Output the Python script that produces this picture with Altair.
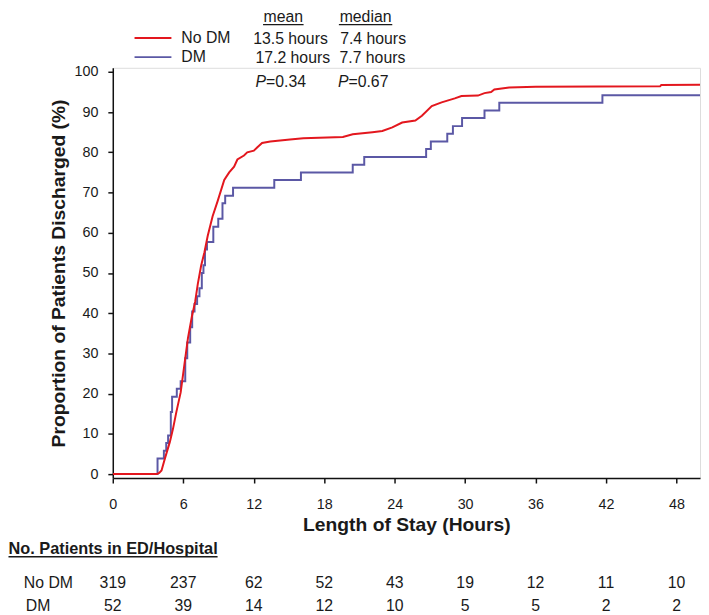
import altair as alt
import pandas as pd

# ---------------- data ----------------
series_names = ["No DM", "DM"]
series_colors = ["#e3171e", "#5b58a5"]

nodm_hours = [0, 3.75, 3.95, 4.15, 4.44, 4.86, 5.13, 5.41, 5.78, 6.12, 6.40, 6.73, 7.01, 7.24,
              7.52, 7.80, 8.08, 8.50, 8.92, 9.49, 9.91, 10.33, 10.61, 11.17, 11.45, 12.01,
              12.29, 12.71, 13.41, 15.09, 16.22, 19.59, 20.43, 22.11, 22.95, 23.80, 24.64,
              25.76, 26.32, 27.16, 28.0, 29.12, 29.69, 31.09, 31.65, 32.21, 32.49, 33.75,
              36.0, 46.6, 46.7, 50]
nodm_pct = [0, 0, 0.3, 0.9, 3.9, 8.0, 11.3, 15.4, 20.3, 27.7, 33.8, 39.1, 42.8, 47.3,
            51.8, 55.1, 59.2, 64.1, 67.8, 73.1, 75.0, 76.4, 78.2, 79.2, 80.0, 80.4,
            81.2, 82.3, 82.7, 83.2, 83.5, 83.8, 84.5, 85.0, 85.3, 86.2, 87.4,
            87.9, 89.1, 91.5, 92.4, 93.4, 94.0, 94.1, 94.7, 95.0, 95.6, 96.1,
            96.3, 96.4, 96.7, 96.8]

dm_hours = [0, 3.81, 4.35, 4.55, 4.71, 4.94, 5.05, 5.45, 5.78, 6.17, 6.34, 6.59, 6.76, 6.96,
            7.18, 7.38, 7.58, 7.72, 7.85, 8.02, 8.56, 8.98, 9.34, 9.57, 10.24, 13.75, 16.02,
            20.43, 21.41, 26.68, 27.08, 28.48, 28.96, 29.74, 31.65, 32.91, 41.69, 50]
dm_pct = [0, 3.85, 5.77, 7.7, 9.6, 15.4, 19.2, 21.2, 23.1, 28.8, 32.7, 36.5, 40.4, 42.3,
          44.2, 46.2, 50.0, 51.9, 55.8, 57.7, 61.5, 63.5, 67.3, 69.2, 71.2, 73.1, 75.0,
          76.9, 78.8, 80.8, 82.7, 84.6, 86.5, 88.5, 90.4, 92.3, 94.2, 94.2]

x_ticks = [0, 6, 12, 18, 24, 30, 36, 42, 48]
y_ticks = [0, 10, 20, 30, 40, 50, 60, 70, 80, 90, 100]
at_risk_nodm = [319, 237, 62, 52, 43, 19, 12, 11, 10]
at_risk_dm = [52, 39, 14, 12, 10, 5, 5, 2, 2]

stat_headers = ["mean", "median"]
mean_text = ["13.5 hours", "17.2 hours"]
median_text = ["7.4 hours", "7.7 hours"]
p_values = ["=0.34", "=0.67"]

x_title = "Length of Stay (Hours)"
y_title = "Proportion of Patients Discharged (%)"
table_title = "No. Patients in ED/Hospital"

# ---------------- tables ----------------
curves = pd.concat([
    pd.DataFrame({"series": "No DM", "hour": nodm_hours, "pct": nodm_pct}),
    pd.DataFrame({"series": "DM", "hour": dm_hours, "pct": dm_pct}),
])
risk = pd.DataFrame({"hour": x_ticks, "nodm": at_risk_nodm, "dm": at_risk_dm})

FONT = "Liberation Sans"
TXT = "#1a1a1a"

xscale = alt.Scale(domain=[0, 50], nice=False, zero=False)
yscale = alt.Scale(domain=[-1, 101], nice=False, zero=False)
cscale = alt.Scale(domain=series_names, range=series_colors)

axis_common = dict(grid=False, domainColor="#111", tickColor="#111", domainWidth=1.5,
                   tickWidth=1.5, tickSize=5, labelFont=FONT, labelFontSize=14.5,
                   labelColor=TXT, titleFont=FONT, titleFontSize=19.5,
                   titleFontWeight="bold", titleColor=TXT)

xaxis = alt.Axis(values=x_ticks, labelPadding=14.5, titlePadding=5, labelFlush=False,
                 **axis_common)
yaxis = alt.Axis(values=y_ticks, labelPadding=10, titlePadding=6, **axis_common)

base = alt.Chart(curves)

dm_line = base.transform_filter(alt.datum.series == "DM").mark_line(
    interpolate="step-after", strokeWidth=2, clip=True
).encode(
    x=alt.X("hour:Q", scale=xscale, axis=xaxis, title=x_title),
    y=alt.Y("pct:Q", scale=yscale, axis=yaxis, title=y_title),
    color=alt.Color("series:N", scale=cscale, legend=None),
)
nodm_line = base.transform_filter(alt.datum.series == "No DM").mark_line(
    interpolate="linear", strokeWidth=2, clip=True
).encode(
    x=alt.X("hour:Q", scale=xscale),
    y=alt.Y("pct:Q", scale=yscale),
    color=alt.Color("series:N", scale=cscale, legend=None),
)


def label(text, x, y, align="left", size=16, weight="normal", style="normal"):
    return alt.Chart(alt.Data(values=[{"t": text}])).mark_text(
        align=align, baseline="alphabetic", font=FONT, fontSize=size,
        fontWeight=weight, fontStyle=style, color=TXT
    ).encode(x=alt.value(x), y=alt.value(y), text="t:N")


def rule(x1, x2, y, color="#111", width=1.3):
    return alt.Chart(alt.Data(values=[{"a": 1}])).mark_rule(
        color=color, strokeWidth=width
    ).encode(x=alt.value(x1), x2=alt.value(x2), y=alt.value(y))


# legend
legend_layers = [
    rule(22, 59.3, -30.2, series_colors[0], 2),
    rule(22, 59.3, -10.8, series_colors[1], 2),
    label(series_names[0], 69.3, -25),
    label(series_names[1], 69.3, -5.5),
]

# statistics block
stat_layers = [
    label(stat_headers[0], 172.5, -46, align="center"),
    label(stat_headers[1], 255.7, -46, align="center"),
    rule(152, 193, -43.7, TXT, 1.2),
    rule(228.7, 282.7, -43.7, TXT, 1.2),
    label(mean_text[0], 142, -24.5),
    label(median_text[0], 230, -24.5),
    label(mean_text[1], 144.3, -5),
    label(median_text[1], 229.3, -5),
    label("P", 144.3, 19, style="italic"),
    label(p_values[0], 155, 19),
    label("P", 227.7, 19, style="italic"),
    label(p_values[1], 238.4, 19),
]

# number-at-risk table
table_nodm = alt.Chart(risk).mark_text(
    align="center", baseline="alphabetic", font=FONT, fontSize=16, color=TXT
).encode(x=alt.X("hour:Q", scale=xscale), y=alt.value(526), text="nodm:Q")
table_dm = alt.Chart(risk).mark_text(
    align="center", baseline="alphabetic", font=FONT, fontSize=16, color=TXT
).encode(x=alt.X("hour:Q", scale=xscale), y=alt.value(549.5), text="dm:Q")

table_layers = [
    label(table_title, -105.5, 492, size=16.5, weight="bold"),
    rule(-105.5, 106, 494.5, TXT, 1.5),
    label(series_names[0], -90, 526),
    label(series_names[1], -88, 549.5),
    table_nodm,
    table_dm,
]

chart = alt.layer(
    dm_line, nodm_line, *legend_layers, *stat_layers, *table_layers
).properties(
    width=594, height=415,
    padding={"left": 106, "top": 57, "right": 1, "bottom": 135},
    autosize=alt.AutoSizeParams(type="none"),
    background="white",
).configure_view(stroke=None).configure(font=FONT)

chart.save("out.html", embed_options={"renderer": "svg", "actions": False})
